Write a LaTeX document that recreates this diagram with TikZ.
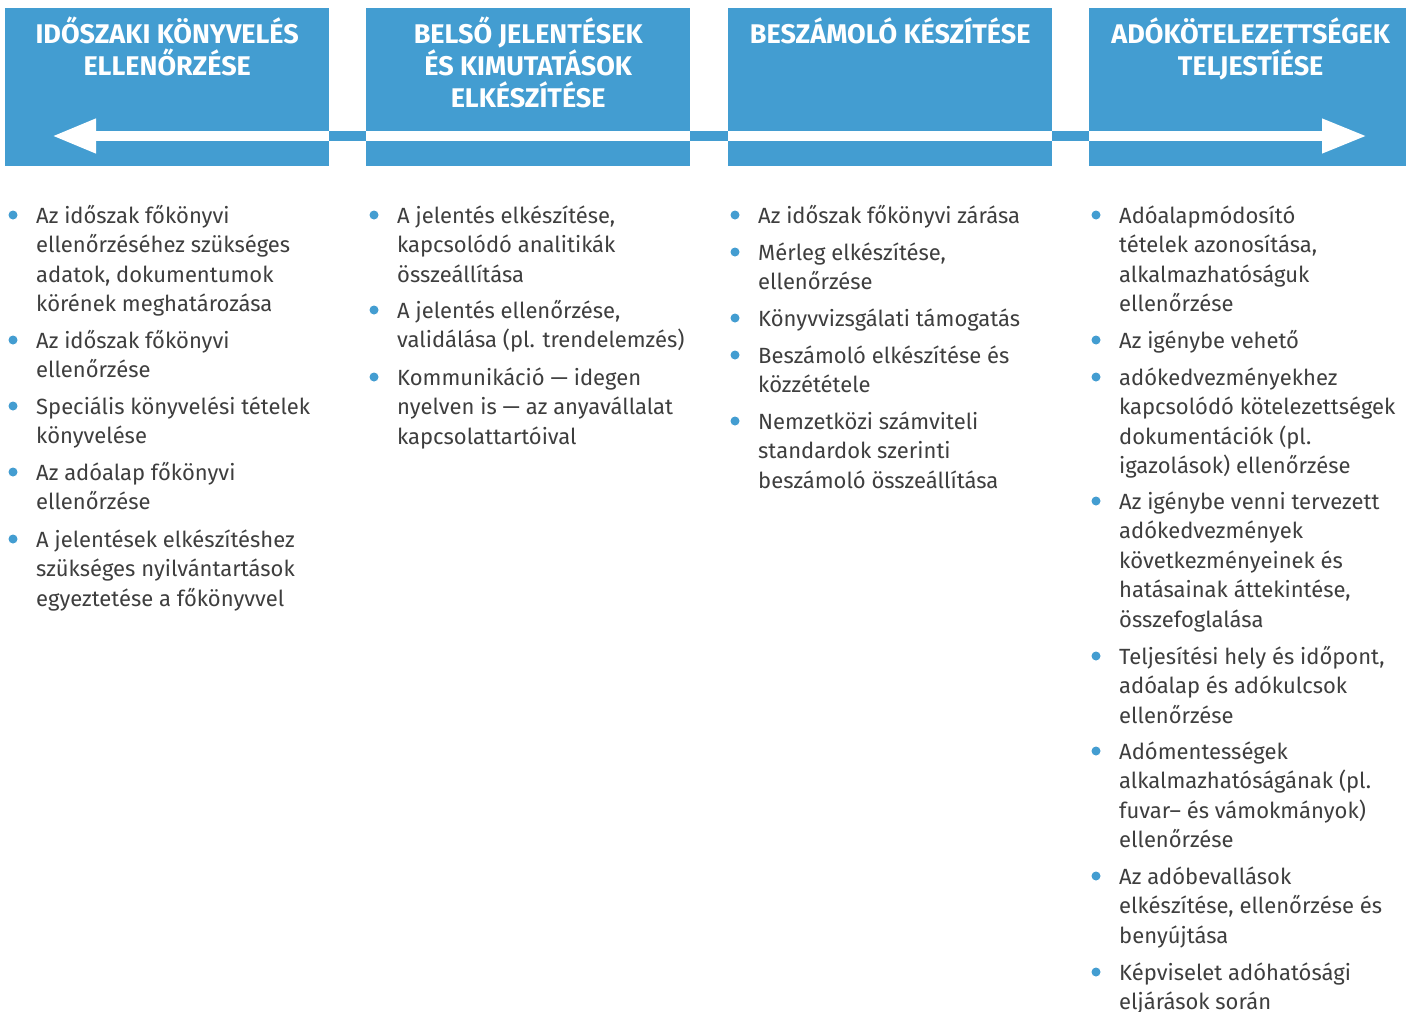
\documentclass[tikz,border=0pt]{standalone}
\usepackage{fontspec}
\setmainfont{Fira Sans}
\usetikzlibrary{positioning,calc,arrows.meta}

\definecolor{phaseblue}{RGB}{67,157,209}
\definecolor{pointgray}{RGB}{62,62,62}

\tikzset{
  phase/.style={fill=phaseblue, draw=none, minimum width=324pt, minimum height=158pt,
    anchor=north west, inner sep=0pt},
  head/.style={text=white, font=\bfseries\fontsize{27}{32}\selectfont, align=center,
    anchor=north, inner sep=0pt, execute at begin node={\rule{0pt}{26pt}}},
  point/.style={text=pointgray, font=\fontsize{22}{29.5}\selectfont, align=left,
    anchor=base west, inner sep=0pt},
  dot/.style={circle, fill=phaseblue, draw=none, inner sep=0pt, minimum size=9pt},
}

% one bullet point: name, x, first baseline y, number of lines, text
\newcommand{\phasepoint}[5]{%
  \node[point] (#1) at (#2,{#3+(#4-1)*29.5}) {#5};
  \node[dot] (#1d) at ($(#1.base west)+(-23,{-8-(#4-1)*29.5})$) {};
}

\begin{document}
\begin{tikzpicture}[x=1pt, y=-1pt]
  \useasboundingbox[fill=white] (0,0) rectangle (1406,1012);
%
    \node[phase] (p1) at (5,8) {};
    \node[phase] (p2) at (366,8) {};
    \node[phase] (p3) at (728,8) {};
    \node[phase, minimum width=317pt] (p4) at (1089,8) {};
%
    \node[head] (h1) at ($(p1.north)+(0,9)$) {IDŐSZAKI KÖNYVELÉS\\ELLENŐRZÉSE};
    \node[head] (h2) at ($(p2.north)+(0,9)$) {BELSŐ JELENTÉSEK\\ÉS KIMUTATÁSOK\\ELKÉSZÍTÉSE};
    \node[head] (h3) at ($(p3.north)+(0,9)$) {BESZÁMOLÓ KÉSZÍTÉSE};
    \node[head] (h4) at ($(p4.north)+(3,9)$) {ADÓKÖTELEZETTSÉGEK\\TELJESTÍÉSE};
%
    \coordinate (aL) at (52,136);
    \coordinate (aR) at (1367,136);
    \draw[white, line width=10pt,
      {Triangle[length=44pt,width=32pt]}-{Triangle[length=45pt,width=32pt]}] (aL) -- (aR);
    % blue links in the gaps
    \fill[phaseblue] (p1.north east |- 0,131) rectangle (p2.north west |- 0,141);
    \fill[phaseblue] (p2.north east |- 0,131) rectangle (p3.north west |- 0,141);
    \fill[phaseblue] (p3.north east |- 0,131) rectangle (p4.north west |- 0,141);
%
    \phasepoint{a1}{36}{223}{4}{Az időszak főkönyvi\\ellenőrzéséhez szükséges\\adatok, dokumentumok\\körének meghatározása}
    \phasepoint{a2}{36}{348}{2}{Az időszak főkönyvi\\ellenőrzése}
    \phasepoint{a3}{36}{414}{2}{Speciális könyvelési tételek\\könyvelése}
    \phasepoint{a4}{36}{480}{2}{Az adóalap főkönyvi\\ellenőrzése}
    \phasepoint{a5}{36}{547}{3}{A jelentések elkészítéshez\\szükséges nyilvántartások\\egyeztetése a főkönyvvel}
%
    \phasepoint{b1}{397}{223}{3}{A jelentés elkészítése,\\kapcsolódó analitikák\\összeállítása}
    \phasepoint{b2}{397}{318}{2}{A jelentés ellenőrzése,\\validálása (pl. trendelemzés)}
    \phasepoint{b3}{397}{385}{3}{Kommunikáció — idegen\\nyelven is — az anyavállalat\\kapcsolattartóival}
%
    \phasepoint{c1}{758}{223}{1}{Az időszak főkönyvi zárása}
    \phasepoint{c2}{758}{260}{2}{Mérleg elkészítése,\\ellenőrzése}
    \phasepoint{c3}{758}{326}{1}{Könyvvizsgálati támogatás}
    \phasepoint{c4}{758}{363}{2}{Beszámoló elkészítése és\\közzététele}
    \phasepoint{c5}{758}{429}{3}{Nemzetközi számviteli\\standardok szerinti\\beszámoló összeállítása}
%
    \phasepoint{d1}{1119}{223}{4}{Adóalapmódosító\\tételek azonosítása,\\alkalmazhatóságuk\\ellenőrzése}
    \phasepoint{d2}{1119}{348}{1}{Az igénybe vehető}
    \phasepoint{d3}{1119}{385}{4}{adókedvezményekhez\\kapcsolódó kötelezettségek\\dokumentációk (pl.\\igazolások) ellenőrzése}
    \phasepoint{d4}{1119}{509}{5}{Az igénybe venni tervezett\\adókedvezmények\\következményeinek és\\hatásainak áttekintése,\\összefoglalása}
    \phasepoint{d5}{1119}{664}{3}{Teljesítési hely és időpont,\\adóalap és adókulcsok\\ellenőrzése}
    \phasepoint{d6}{1119}{759}{4}{Adómentességek\\alkalmazhatóságának (pl.\\fuvar– és vámokmányok)\\ellenőrzése}
    \phasepoint{d7}{1119}{884}{3}{Az adóbevallások\\elkészítése, ellenőrzése és\\benyújtása}
    \phasepoint{d8}{1119}{980}{2}{Képviselet adóhatósági\\eljárások során}
\end{tikzpicture}
\end{document}
